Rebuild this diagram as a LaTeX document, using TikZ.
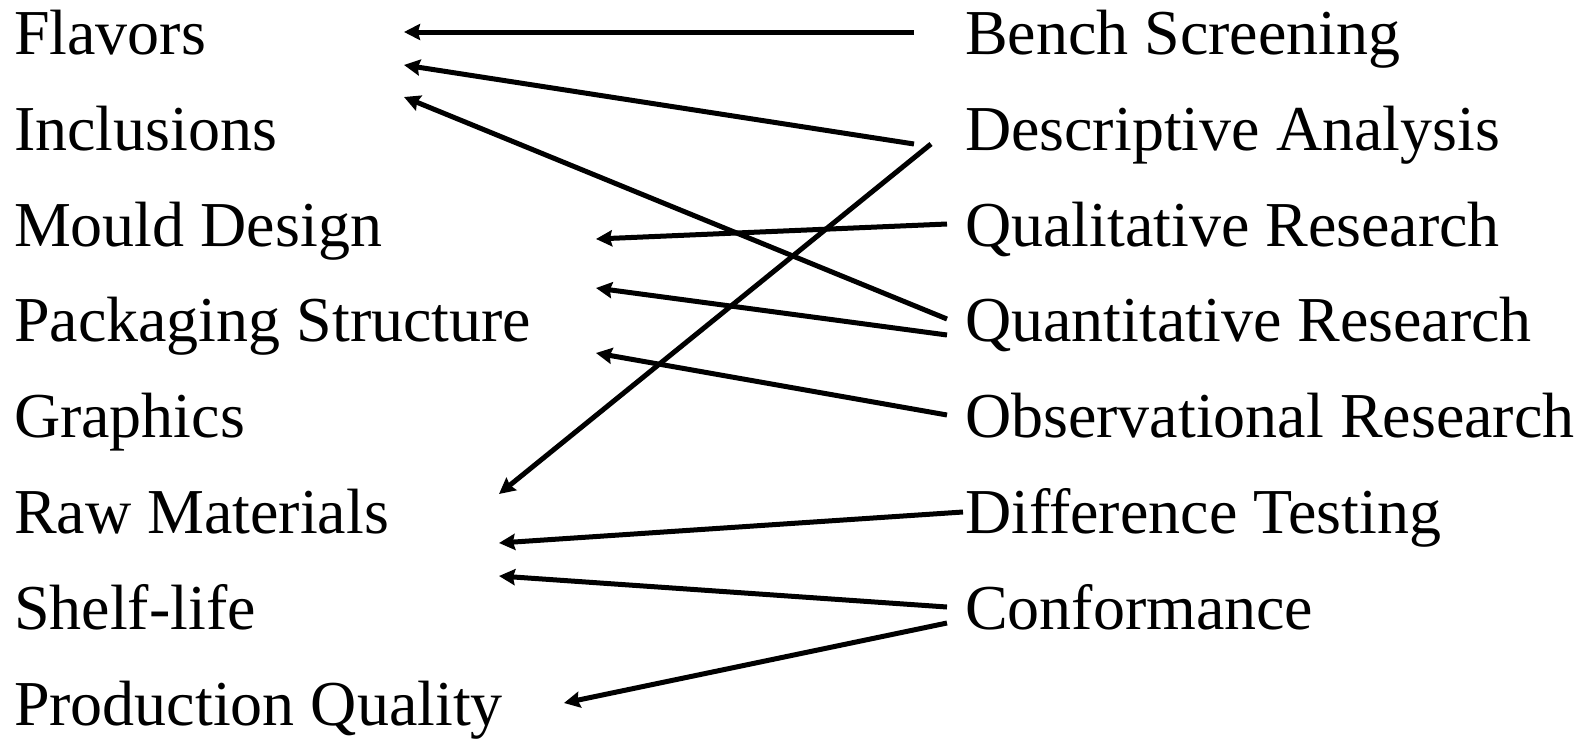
\documentclass[tikz,border=0pt]{standalone}
\usepackage{fontspec}
\setmainfont{Liberation Serif}
\usetikzlibrary{arrows.meta}
\begin{document}
\begin{tikzpicture}[x=1pt,y=-1pt,
  lbl/.style={anchor=base west,inner sep=0pt,outer sep=0pt,font=\fontsize{64}{64}\selectfont},
  conn/.style={line width=5pt,-{Stealth[length=16pt,width=16pt,inset=2pt]}}]
\useasboundingbox (0,0) rectangle (1587,739);
% left column
\node[lbl] (flav) at (14,54.5) {Flavors};
\node[lbl] (incl) at (14,150.3) {Inclusions};
\node[lbl] (mould) at (14,246.1) {Mould Design};
\node[lbl] (pack) at (14,341.9) {Packaging Structure};
\node[lbl] (graph) at (14,437.7) {Graphics};
\node[lbl] (raw) at (14,533.5) {Raw Materials};
\node[lbl] (shelf) at (14,629.3) {Shelf-life};
\node[lbl] (prod) at (14,725.1) {Production Quality};
% right column
\node[lbl] (bench) at (965,54.5) {Bench Screening};
\node[lbl] (desc) at (965,150.3) {Descriptive Analysis};
\node[lbl] (qual) at (965,246.1) {Qualitative Research};
\node[lbl] (quant) at (965,341.9) {Quantitative Research};
\node[lbl] (obs) at (965,437.7) {Observational Research};
\node[lbl] (diff) at (965,533.5) {Difference Testing};
\node[lbl] (conf) at (965,629.3) {Conformance};
% connector end points
\coordinate (benchA) at (914,32);
\coordinate (flavA) at (404,32);
\coordinate (descA) at (914,144);
\coordinate (flavB) at (404,65);
\coordinate (quantA) at (947,319);
\coordinate (flavC) at (404,97);
\coordinate (descB) at (931,144);
\coordinate (rawA) at (499,494);
\coordinate (qualA) at (947,224);
\coordinate (mouldA) at (596,239);
\coordinate (quantB) at (947,335);
\coordinate (packA) at (596,288);
\coordinate (obsA) at (947,415);
\coordinate (packB) at (596,353);
\coordinate (diffA) at (963,512);
\coordinate (rawB) at (499,543);
\coordinate (confA) at (947,607);
\coordinate (rawC) at (499,576);
\coordinate (confB) at (947,623);
\coordinate (prodA) at (564,703);
% connectors
\draw[conn] (benchA) -- (flavA);
\draw[conn] (descA) -- (flavB);
\draw[conn] (quantA) -- (flavC);
\draw[conn] (descB) -- (rawA);
\draw[conn] (qualA) -- (mouldA);
\draw[conn] (quantB) -- (packA);
\draw[conn] (obsA) -- (packB);
\draw[conn] (diffA) -- (rawB);
\draw[conn] (confA) -- (rawC);
\draw[conn] (confB) -- (prodA);
\end{tikzpicture}
\end{document}
